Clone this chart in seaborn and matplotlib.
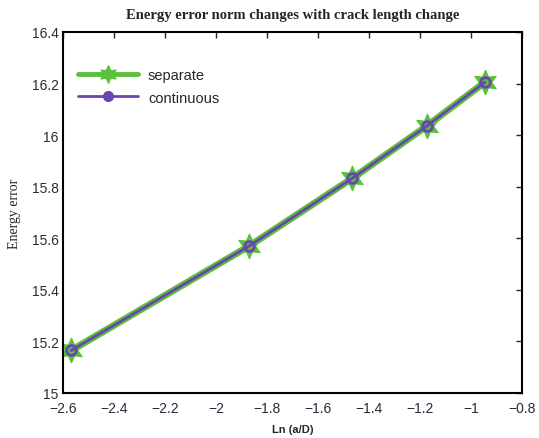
import matplotlib
matplotlib.use("Agg")
import matplotlib.pyplot as plt
import seaborn as sns
import pandas as pd

# Data
ln_aD = [-2.568, -1.870, -1.465, -1.174, -0.946]
separate = [15.165, 15.570, 15.833, 16.035, 16.205]
continuous = [15.165, 15.570, 15.833, 16.035, 16.205]
x_ticks = [-2.6, -2.4, -2.2, -2.0, -1.8, -1.6, -1.4, -1.2, -1.0, -0.8]
x_ticklabels = ["\u22122.6", "\u22122.4", "\u22122.2", "\u22122", "\u22121.8", "\u22121.6",
                "\u22121.4", "\u22121.2", "\u22121", "\u22120.8"]
y_ticks = [15.0, 15.2, 15.4, 15.6, 15.8, 16.0, 16.2, 16.4]
y_ticklabels = ["15", "15.2", "15.4", "15.6", "15.8", "16", "16.2", "16.4"]

df = pd.DataFrame({"x": ln_aD, "separate": separate, "continuous": continuous})

sns.set_style("white")
plt.rcParams['font.family'] = ['Liberation Sans', 'DejaVu Sans']

fig = plt.figure(figsize=(5.39, 4.39), dpi=100)
ax = fig.add_axes([63/539, 1-394/439, (522-63)/539, (394-33)/439])

green = "#5cc03c"
purple = "#6a44b0"

sns.lineplot(data=df, x="x", y="separate", ax=ax, color=green, lw=5,
             marker=(6, 1, 0), markersize=18, markeredgecolor=green,
             markerfacecolor=green, label="separate")
sns.lineplot(data=df, x="x", y="continuous", ax=ax, color=purple, lw=2,
             marker="o", markersize=7, markeredgecolor=purple,
             markerfacecolor="none", markeredgewidth=2, label="continuous")

ax.set_xlim(-2.6, -0.8)
ax.set_ylim(15.0, 16.4)
ax.set_xticks(x_ticks)
ax.set_xticklabels(x_ticklabels)
ax.set_yticks(y_ticks)
ax.set_yticklabels(y_ticklabels)
ax.tick_params(direction="in", length=4, width=1, top=True, right=True,
               labelsize=10, labelcolor="#2a2a3a")
ax.tick_params(axis="x", pad=6)
ax.tick_params(axis="y", pad=3)

for s in ax.spines.values():
    s.set_visible(True)
    s.set_color("black")
    s.set_linewidth(1.5)

ax.set_title("Energy error norm changes with crack length change",
             fontfamily="Liberation Serif", fontweight="bold", fontsize=10.5, pad=10)
ax.set_ylabel("Energy error", fontfamily="Liberation Serif", fontsize=10, labelpad=8)
ax.set_xlabel("Ln (a/D)", fontweight="bold", fontsize=8, labelpad=6)

leg = ax.legend(loc="upper left", bbox_to_anchor=(0.02, 0.917), frameon=False,
                handlelength=4.1, fontsize=10.5, borderaxespad=0.0, labelspacing=0.6,
                handletextpad=0.7)
leg.legend_handles[0].set_markersize(13)
leg.legend_handles[0].set_linewidth(3.5)
leg.legend_handles[1].set_markerfacecolor(purple)
leg.legend_handles[1].set_markersize(6)

fig.savefig("out.png", dpi=100)
